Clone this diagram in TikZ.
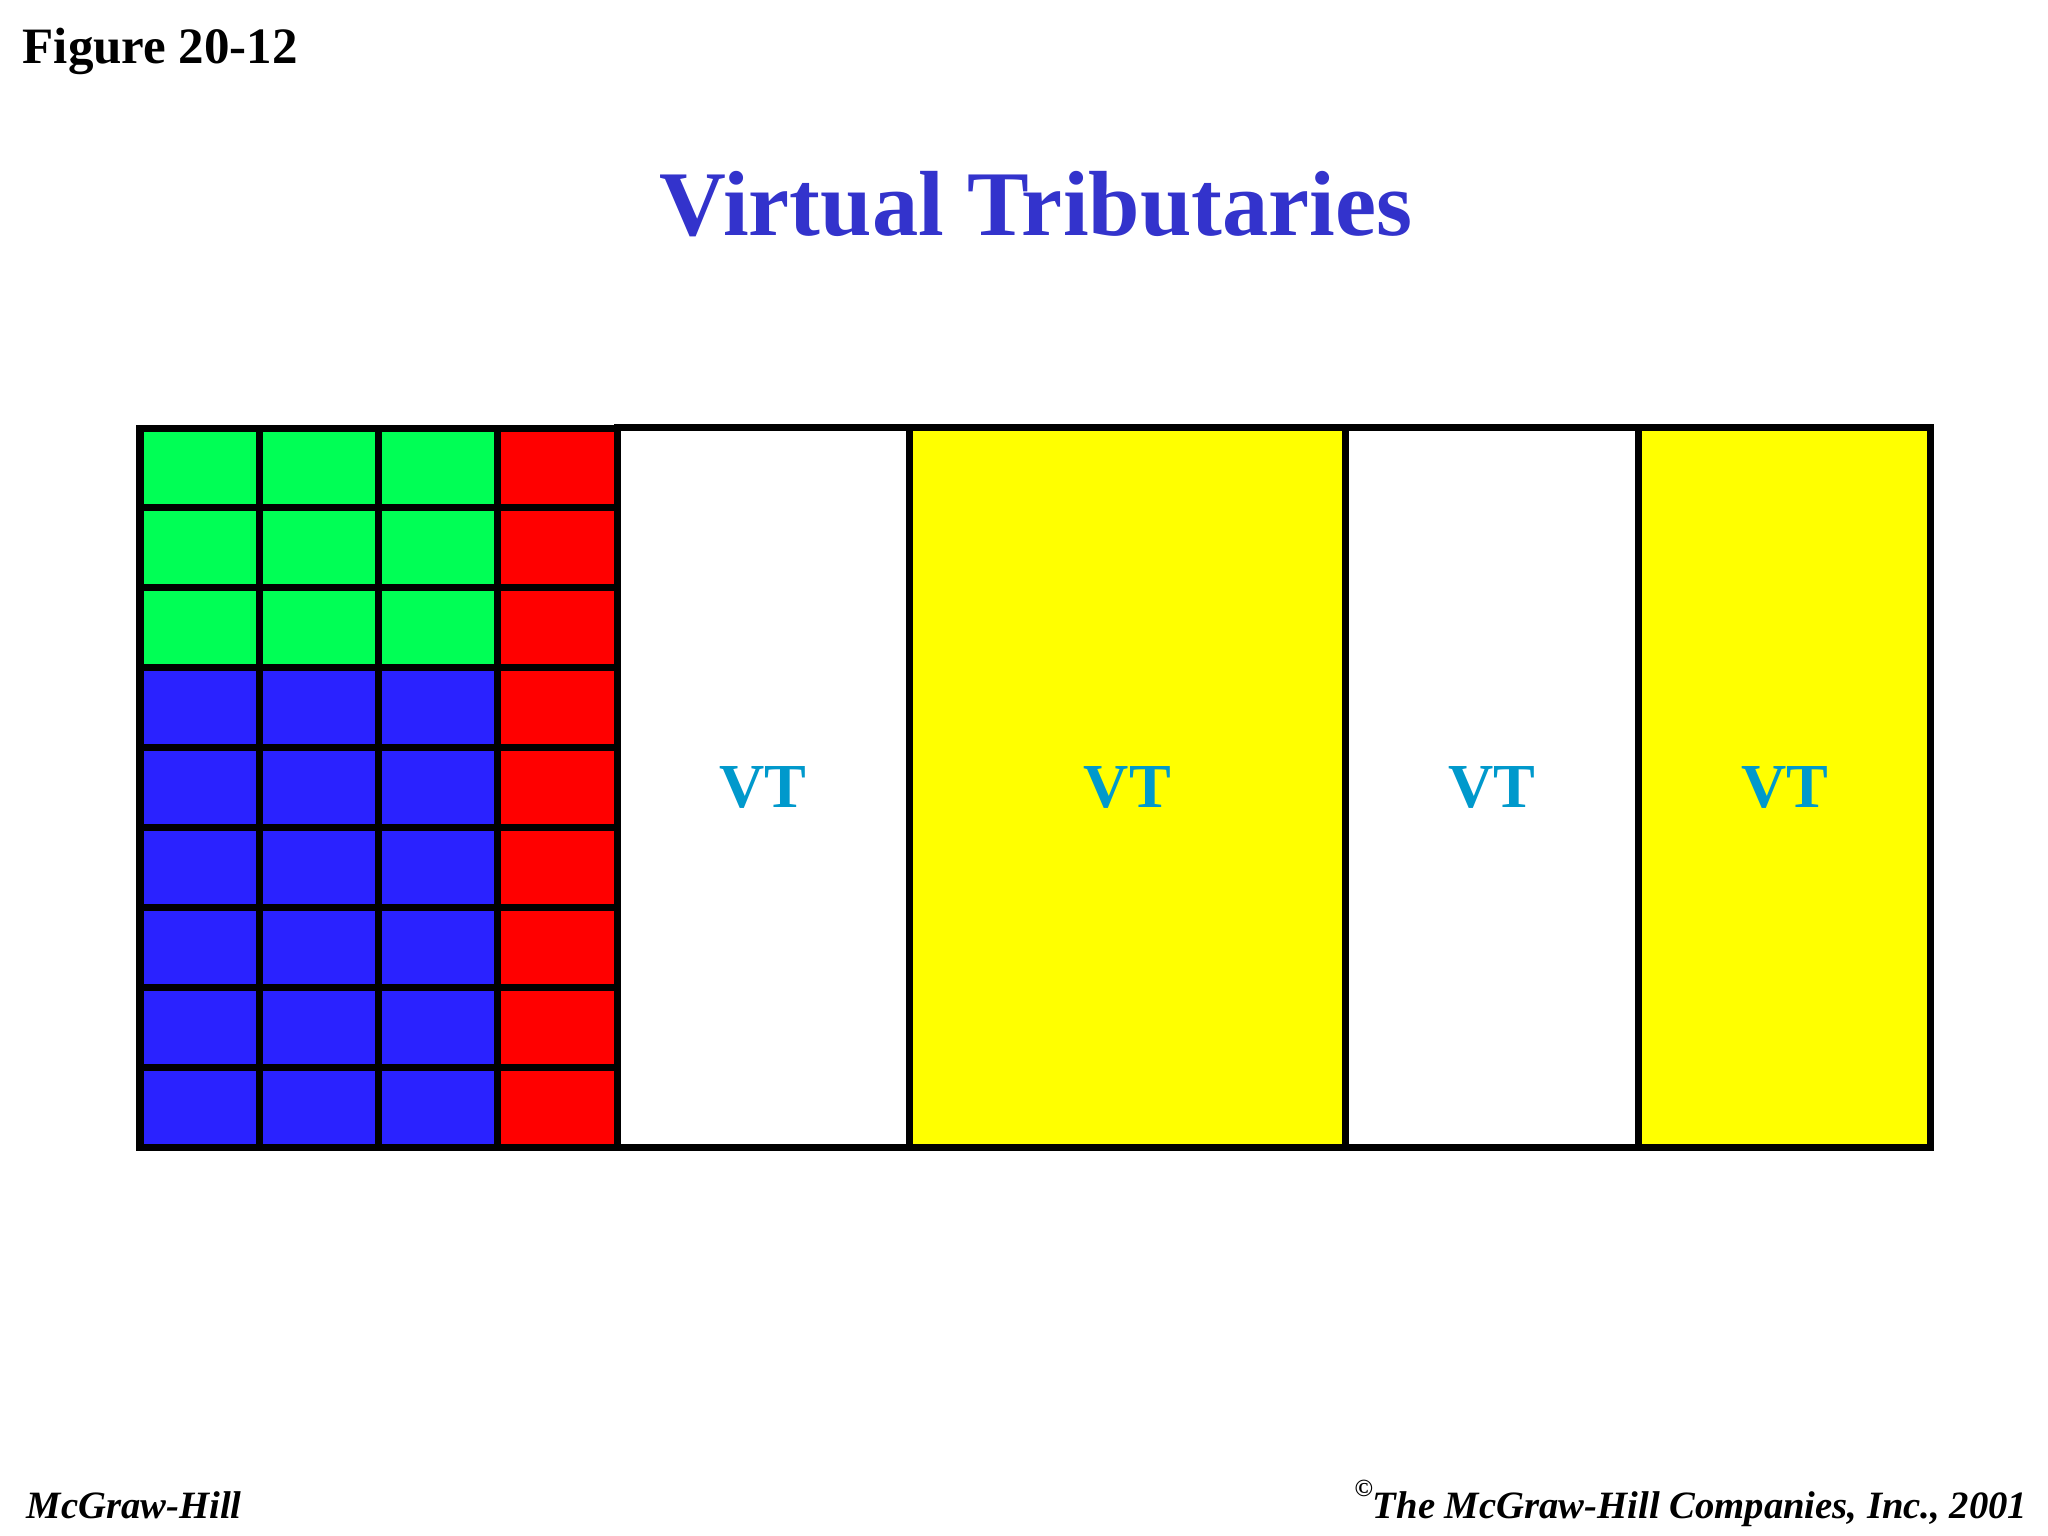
\documentclass[tikz,border=0pt]{standalone}
\usepackage{fontspec}
\setmainfont{Liberation Serif}
\usepackage{tikz}
\usetikzlibrary{positioning}
\definecolor{titleblue}{RGB}{51,51,204}
\definecolor{vtteal}{RGB}{0,153,204}
\definecolor{cellgreen}{RGB}{0,255,85}
\definecolor{cellblue}{RGB}{42,34,255}
\definecolor{cellred}{RGB}{255,0,0}
\definecolor{slotyellow}{RGB}{255,255,0}
\tikzstyle{frame-line} = [line width=0.07cm, black]
\tikzstyle{vt-slot} = [rectangle, draw=black, line width=0.07cm, outer sep=0pt, inner sep=0pt,
    minimum height=7.19cm, text=vtteal, font=\fontsize{17.8}{20}\selectfont\bfseries]
\tikzstyle{footer} = [inner sep=0pt, font=\fontsize{11}{12}\selectfont\bfseries\itshape]

\begin{document}
\begin{tikzpicture}[x=0.01cm, y=-0.01cm]
    \useasboundingbox[fill=white] (0,0) rectangle (2048,1536);

    \node (fig) [anchor=base west, inner sep=0pt, font=\fontsize{14.5}{16}\selectfont\bfseries] at (22,63) {Figure 20-12};
    \node (title) [anchor=base, inner sep=0pt, text=titleblue, font=\fontsize{26.3}{30}\selectfont\bfseries] at (1036,235) {Virtual Tributaries};

    % overhead block
    \foreach \r in {0,1,2}
        \foreach \c in {0,1,2}
            \fill[cellgreen] (140+119.25*\c, 428+79.9*\r) rectangle +(119.25,79.9);
    \foreach \r in {3,...,8}
        \foreach \c in {0,1,2}
            \fill[cellblue] (140+119.25*\c, 428+79.9*\r) rectangle +(119.25,79.9);
    \fill[cellred] (497.75,428) rectangle (617,1147);
    \foreach \k in {1,...,8}
        \draw[frame-line] (140, 428+79.9*\k) -- (617, 428+79.9*\k);
    \foreach \c in {1,2,3}
        \draw[frame-line] (140+119.25*\c, 428) -- (140+119.25*\c, 1147);
    \draw[frame-line] (140,428) rectangle (617,1147);

    % tributary slots
    \coordinate (block-east) at (617,787.5);
    \node (vt1) [vt-slot, fill=white, minimum width=2.92cm, right=0pt of block-east] {VT};
    \node (vt2) [vt-slot, fill=slotyellow, minimum width=4.36cm, right=0pt of vt1] {VT};
    \node (vt3) [vt-slot, fill=white, minimum width=2.93cm, right=0pt of vt2] {VT};
    \node (vt4) [vt-slot, fill=slotyellow, minimum width=2.92cm, right=0pt of vt3] {VT};

    \node (pub) [footer, anchor=base west] at (26,1518) {McGraw-Hill};
    \node (copy) [footer, anchor=base east] at (2028,1518) {\raisebox{1.2ex}{\fontsize{7}{8}\selectfont\textcopyright}The McGraw-Hill Companies, Inc., 2001};
\end{tikzpicture}
\end{document}
